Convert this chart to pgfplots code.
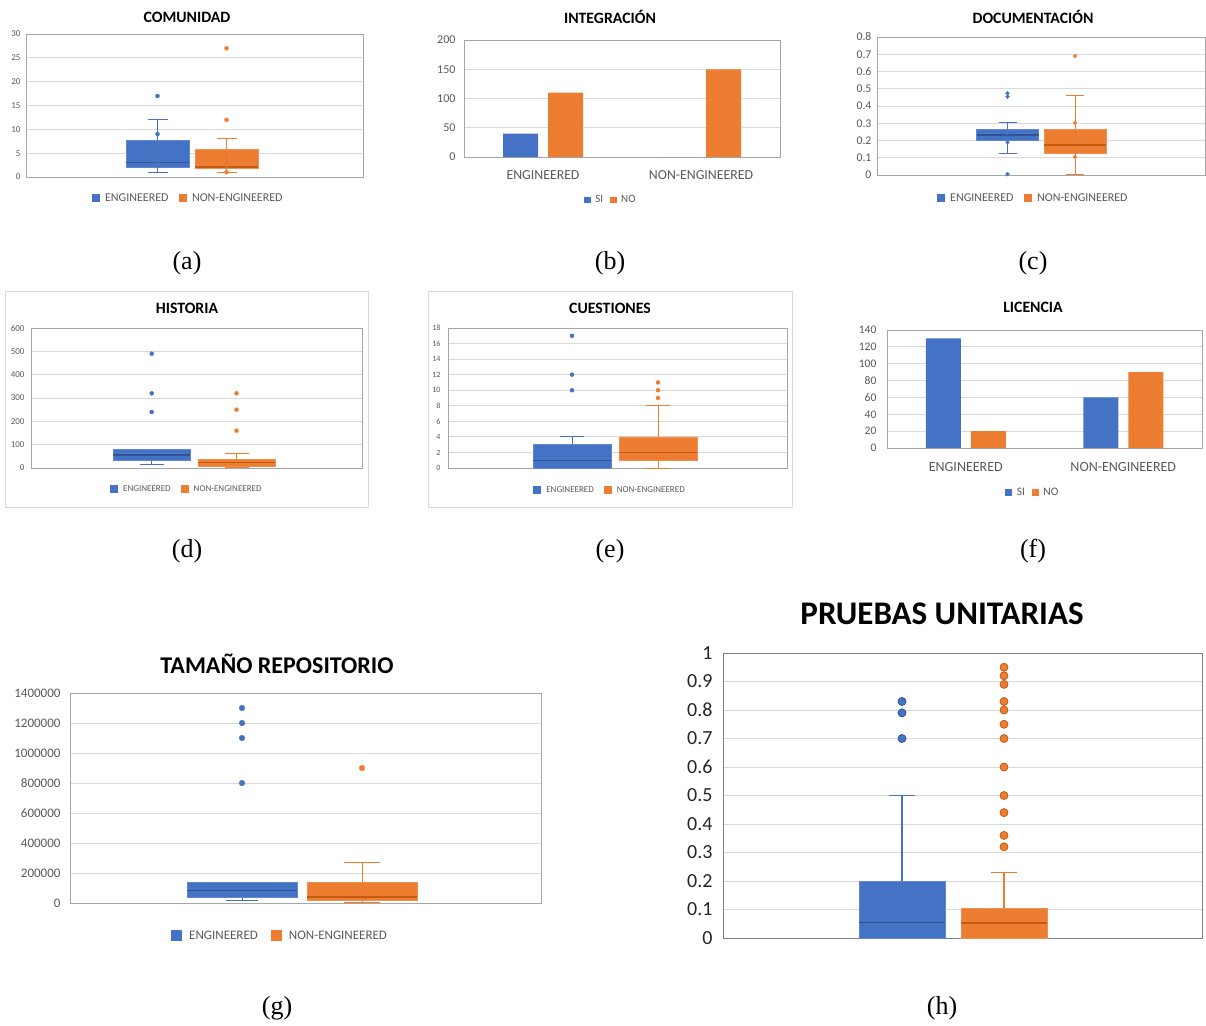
\documentclass[border=0pt]{standalone}
\usepackage{pgfplots}
\pgfplotsset{compat=1.18}
\usepackage{fontspec}
\setmainfont{Carlito}
\newfontfamily\serifl{Liberation Serif}

\definecolor{xblue}{HTML}{4472C4}
\definecolor{xorange}{HTML}{ED7D31}
\definecolor{xblued}{HTML}{2F5597}
\definecolor{xoranged}{HTML}{C55A11}
\definecolor{xgrid}{HTML}{D9D9D9}
\definecolor{xtick}{HTML}{595959}
\definecolor{xframe}{HTML}{A6A6A6}
\definecolor{xframed}{HTML}{7F7F7F}
\colorlet{boxE}{xblue}\colorlet{medE}{xblued}
\colorlet{boxO}{xorange}\colorlet{medO}{xoranged}

\newcommand\fs[1]{\fontsize{#1}{#1}\selectfont}
% legend square: #1 colour, #2 half side, #3 gap to text
\newcommand\legsq[3]{\addlegendimage{draw=none, legend image code/.code={\fill[#1, draw=none] (0pt,-#2) rectangle (2*#2,#2);\path[draw=none, fill=none] (0pt,0pt) -- (2*#2+#3,0pt);}}}
\def\wlw{0.9pt}\def\mlw{1.2pt}
% box plot from its five numbers: #1 centre, #2 half box width, #3 half cap width,
% #4 lower whisker, #5 lower quartile, #6 median, #7 upper quartile, #8 upper whisker, #9 E/O
\newcommand\bxp[9]{%
  \pgfmathsetmacro\xa{#1-#2}\pgfmathsetmacro\xb{#1+#2}%
  \pgfmathsetmacro\ca{#1-#3}\pgfmathsetmacro\cb{#1+#3}%
  \addplot[forget plot, draw=box#9, line width=\wlw] coordinates {(#1,#4) (#1,#5)};
  \addplot[forget plot, draw=box#9, line width=\wlw] coordinates {(#1,#7) (#1,#8)};
  \addplot[forget plot, draw=box#9, line width=\wlw] coordinates {(\ca,#4) (\cb,#4)};
  \addplot[forget plot, draw=box#9, line width=\wlw] coordinates {(\ca,#8) (\cb,#8)};
  \addplot[forget plot, fill=box#9, draw=box#9!85!white, line width=0.6pt]
    coordinates {(\xa,#5) (\xb,#5) (\xb,#7) (\xa,#7) (\xa,#5)};
  \addplot[forget plot, draw=med#9, line width=\mlw] coordinates {(\xa,#6) (\xb,#6)};
}

\pgfplotsset{
  base/.style={scale only axis, enlargelimits=false, clip=false,
    axis line style={draw=xframe, line width=0.7pt},
    ymajorgrids, grid style={draw=xgrid, line width=0.8pt},
    tick style={draw=none},
    /pgf/number format/assume math mode=true,
    scaled y ticks=false,
    yticklabel style={text=xtick, /pgf/number format/fixed, /pgf/number format/1000 sep={}},
    legend columns=2,
    legend style={draw=none, fill=none, text=xtick, anchor=center,
      /tikz/every even column/.append style={column sep=8pt}},
  },
  bx/.style={base, xtick=\empty, xmin=0},
  bars/.style={base, ybar=10pt, bar width=35pt, xmin=-0.5, xmax=1.5,
    xtick={0,1}, xticklabels={ENGINEERED,NON-ENGINEERED}, xticklabel style={text=xtick}},
  outE/.style={forget plot, only marks, mark=*, color=xblue},
  outO/.style={forget plot, only marks, mark=*, color=xorange},
  inE/.style={forget plot, only marks, mark=o, mark size=1.2pt, color=xblued!80},
  inO/.style={forget plot, only marks, mark=o, mark size=1.2pt, color=xoranged!80},
}

\begin{document}
\begin{tikzpicture}
\useasboundingbox (0,0) rectangle (1206pt,-1025pt);

% outer frames of (d) and (e)
\draw[xgrid, line width=0.8pt] (5pt,-291pt) rectangle (368pt,-507pt);
\draw[xgrid, line width=0.8pt] (428pt,-291pt) rectangle (792pt,-507pt);

% ---------------- (a) COMUNIDAD
\begin{axis}[bx, at={(26pt,-177pt)}, anchor=south west, width=337pt, height=143pt,
  xmax=3.37, ymin=0, ymax=30, ytick={0,5,...,30},
  yticklabel style={font=\fs{9}, xshift=-2pt},
  legend style={at={(0.481,-0.147)}, font=\fs{12}}]
\bxp{1.315}{0.315}{0.10}{1}{2.1}{3.1}{7.6}{12}{E}
\addplot[inE] coordinates {(1.315,7) (1.315,6) (1.315,5) (1.315,3) (1.315,2)};
\addplot[outE, mark size=2pt] coordinates {(1.315,17) (1.315,9)};
\bxp{2.005}{0.315}{0.10}{1}{1.8}{2.1}{5.8}{8}{O}
\addplot[inO] coordinates {(2.005,5) (2.005,4) (2.005,3) (2.005,2)};
\addplot[outO, mark size=2pt] coordinates {(2.005,27) (2.005,12) (2.005,1)};
\legsq{xblue}{4pt}{3.5pt}\addlegendentry{ENGINEERED}
\legsq{xorange}{4pt}{3.5pt}\addlegendentry{NON-ENGINEERED}
\end{axis}

% ---------------- (b) INTEGRACION
\begin{axis}[bars, at={(464pt,-157pt)}, anchor=south west, width=316pt, height=117pt,
  ymin=0, ymax=200, ytick={0,50,...,200},
  yticklabel style={font=\fs{12}, xshift=-5pt},
  xticklabel style={font=\fs{13.8}, yshift=-6pt},
  legend style={at={(0.465,-0.368)}, font=\fs{11},
    /tikz/every even column/.append style={column sep=5pt}}]
\addplot[fill=xblue, draw=none, legend image code/.code={\fill[xblue] (0pt,-3.3pt) rectangle (6.6pt,3.3pt);\path[draw=none] (0pt,0pt) -- (9pt,0pt);}]
  coordinates {(0,40) (1,0)};
\addlegendentry{SI}
\addplot[fill=xorange, draw=none, legend image code/.code={\fill[xorange] (0pt,-3.3pt) rectangle (6.6pt,3.3pt);\path[draw=none] (0pt,0pt) -- (9pt,0pt);}]
  coordinates {(0,110) (1,150)};
\addlegendentry{NO}
\end{axis}

% ---------------- (c) DOCUMENTACION
\begin{axis}[bx, at={(877pt,-175pt)}, anchor=south west, width=328pt, height=138pt,
  xmax=3.28, ymin=0, ymax=0.8, ytick={0,0.1,...,0.8},
  yticklabel style={font=\fs{11.8}, xshift=-2pt, /pgf/number format/precision=1},
  legend style={at={(0.476,-0.167)}, font=\fs{12}}]
\bxp{1.305}{0.31}{0.09}{0.126}{0.199}{0.232}{0.265}{0.303}{E}
\addplot[inE] coordinates {(1.305,0.24) (1.305,0.21)};
\addplot[outE, mark size=1.9pt] coordinates {(1.305,0.474) (1.305,0.454) (1.305,0.005) (1.305,0.19)};
\bxp{1.98}{0.31}{0.09}{0.002}{0.126}{0.174}{0.265}{0.462}{O}
\addplot[inO] coordinates {(1.98,0.25) (1.98,0.21) (1.98,0.13)};
\addplot[outO, mark size=1.9pt] coordinates {(1.98,0.69) (1.98,0.303) (1.98,0.106)};
\legsq{xblue}{4pt}{3.5pt}\addlegendentry{ENGINEERED}
\legsq{xorange}{4pt}{3.5pt}\addlegendentry{NON-ENGINEERED}
\end{axis}

% ---------------- (d) HISTORIA
\begin{axis}[bx, at={(31pt,-468pt)}, anchor=south west, width=331pt, height=140pt,
  xmax=3.31, ymin=0, ymax=600, ytick={0,100,...,600},
  yticklabel style={font=\fs{9}, xshift=-3pt},
  legend style={at={(0.471,-0.15)}, font=\fs{9}}]
\bxp{1.207}{0.385}{0.12}{15}{31}{56}{81}{81}{E}
\addplot[outE, mark size=2pt] coordinates {(1.207,490) (1.207,320) (1.207,240)};
\bxp{2.055}{0.385}{0.12}{4}{8}{22}{38}{63}{O}
\addplot[outO, mark size=2pt] coordinates {(2.055,320) (2.055,250) (2.055,160)};
\legsq{xblue}{4pt}{3pt}\addlegendentry{ENGINEERED}
\legsq{xorange}{4pt}{3pt}\addlegendentry{NON-ENGINEERED}
\end{axis}

% ---------------- (e) CUESTIONES
\begin{axis}[bx, at={(448pt,-468pt)}, anchor=south west, width=339pt, height=140pt,
  xmax=3.39, ymin=0, ymax=18, ytick={0,2,...,18},
  yticklabel style={font=\fs{8}, xshift=-4pt},
  legend style={at={(0.478,-0.157)}, font=\fs{9}}]
\bxp{1.24}{0.39}{0.12}{0}{0}{1}{3}{4}{E}
\addplot[outE, mark size=2pt] coordinates {(1.24,17) (1.24,12) (1.24,10)};
\bxp{2.10}{0.39}{0.12}{0}{1}{2}{4}{8}{O}
\addplot[outO, mark size=2pt] coordinates {(2.10,11) (2.10,10) (2.10,9)};
\legsq{xblue}{4pt}{3pt}\addlegendentry{ENGINEERED}
\legsq{xorange}{4pt}{3pt}\addlegendentry{NON-ENGINEERED}
\end{axis}

% ---------------- (f) LICENCIA
\begin{axis}[bars, at={(887pt,-448pt)}, anchor=south west, width=315pt, height=118pt,
  ymin=0, ymax=140, ytick={0,20,...,140},
  yticklabel style={font=\fs{11.6}, xshift=-7pt},
  xticklabel style={font=\fs{14}, yshift=-7pt},
  legend style={at={(0.463,-0.373)}, font=\fs{11.5},
    /tikz/every even column/.append style={column sep=5pt}}]
\addplot[fill=xblue, draw=none, legend image code/.code={\fill[xblue] (0pt,-3.5pt) rectangle (7pt,3.5pt);\path[draw=none] (0pt,0pt) -- (9.5pt,0pt);}]
  coordinates {(0,130) (1,60)};
\addlegendentry{SI}
\addplot[fill=xorange, draw=none, legend image code/.code={\fill[xorange] (0pt,-3.5pt) rectangle (7pt,3.5pt);\path[draw=none] (0pt,0pt) -- (9.5pt,0pt);}]
  coordinates {(0,20) (1,90)};
\addlegendentry{NO}
\end{axis}

% ---------------- (g) TAMANO REPOSITORIO
\begin{axis}[bx, at={(70pt,-903pt)}, anchor=south west, width=471pt, height=210pt,
  xmax=4.71, ymin=0, ymax=1400000, ytick={0,200000,...,1400000},
  yticklabel style={font=\fs{13}, xshift=-6pt},
  legend style={at={(0.446,-0.157)}, font=\fs{13},
    /tikz/every even column/.append style={column sep=11pt}}]
\bxp{1.72}{0.55}{0.16}{20000}{35000}{85000}{135000}{135000}{E}
\addplot[outE, mark size=2.8pt] coordinates {(1.72,1300000) (1.72,1200000) (1.72,1100000) (1.72,800000)};
\bxp{2.92}{0.55}{0.18}{5000}{20000}{40000}{135000}{270000}{O}
\addplot[outO, mark size=2.8pt] coordinates {(2.92,900000)};
\legsq{xblue}{5.5pt}{5pt}\addlegendentry{ENGINEERED}
\legsq{xorange}{5.5pt}{5pt}\addlegendentry{NON-ENGINEERED}
\end{axis}

% ---------------- (h) PRUEBAS UNITARIAS
\def\wlw{1.4pt}\def\mlw{1.6pt}
\begin{axis}[bx, at={(723pt,-938pt)}, anchor=south west, width=479pt, height=285pt,
  axis line style={draw=xframed, line width=1pt},
  xmax=4.79, ymin=0, ymax=1, ytick={0,0.1,...,1},
  yticklabel style={font=\fs{20}, text=black!85, xshift=-7pt, /pgf/number format/precision=1}]
\bxp{1.79}{0.43}{0.13}{0}{0}{0.055}{0.2}{0.5}{E}
\addplot[outE, mark size=4pt, mark options={fill=xblue, draw=xblued, line width=0.8pt}]
  coordinates {(1.79,0.83) (1.79,0.79) (1.79,0.7)};
\bxp{2.81}{0.43}{0.13}{0}{0}{0.052}{0.105}{0.23}{O}
\addplot[outO, mark size=4pt, mark options={fill=xorange, draw=xoranged, line width=0.8pt}]
  coordinates {(2.81,0.95) (2.81,0.92) (2.81,0.89) (2.81,0.83) (2.81,0.80) (2.81,0.75) (2.81,0.70) (2.81,0.60) (2.81,0.50) (2.81,0.44) (2.81,0.36) (2.81,0.32)};
\end{axis}

% titles
\node[font=\bfseries\fs{15.8}] at (187pt,-17pt) {COMUNIDAD};
\node[font=\bfseries\fs{15.8}] at (610pt,-17pt) {INTEGRACIÓN};
\node[font=\bfseries\fs{15.8}] at (1033pt,-17pt) {DOCUMENTACIÓN};
\node[font=\bfseries\fs{15.8}] at (187pt,-308pt) {HISTORIA};
\node[font=\bfseries\fs{15.8}] at (610pt,-308pt) {CUESTIONES};
\node[font=\bfseries\fs{15.8}] at (1033pt,-307pt) {LICENCIA};
\node[font=\bfseries\fs{24}] at (277pt,-664pt) {TAMAÑO REPOSITORIO};
\node[font=\bfseries\fs{33}] at (942pt,-614pt) {PRUEBAS UNITARIAS};

% sub-figure labels
\node[font=\serifl\fs{26}] at (187pt,-263pt) {(a)};
\node[font=\serifl\fs{26}] at (610pt,-263pt) {(b)};
\node[font=\serifl\fs{26}] at (1033pt,-263pt) {(c)};
\node[font=\serifl\fs{26}] at (187pt,-551pt) {(d)};
\node[font=\serifl\fs{26}] at (610pt,-551pt) {(e)};
\node[font=\serifl\fs{26}] at (1033pt,-551pt) {(f)};
\node[font=\serifl\fs{26}] at (277pt,-1008pt) {(g)};
\node[font=\serifl\fs{26}] at (942pt,-1008pt) {(h)};
\end{tikzpicture}
\end{document}
